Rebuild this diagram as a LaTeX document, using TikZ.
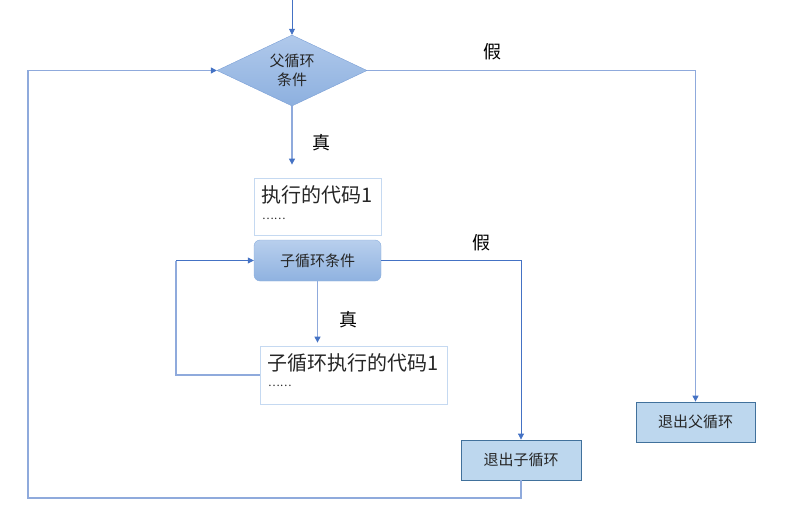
\documentclass[tikz,border=0pt]{standalone}
\usepackage{fontspec}
\setmainfont{Noto Sans CJK SC}
\usetikzlibrary{shapes.geometric,arrows.meta}
\definecolor{linedark}{HTML}{4472C4}
\definecolor{linelight}{HTML}{8FAADC}
\definecolor{boxfill}{HTML}{BDD7EE}
\definecolor{boxedge}{HTML}{41719C}
\definecolor{txt}{HTML}{262626}
\definecolor{condtop}{RGB}{176,201,235}
\definecolor{condbot}{RGB}{141,176,223}
\definecolor{condedge}{RGB}{122,159,214}
\definecolor{subtop}{RGB}{184,207,237}
\definecolor{subbot}{RGB}{143,178,224}
\definecolor{subedge}{RGB}{138,174,221}
\definecolor{codeedge}{RGB}{197,217,241}
\tikzset{
  tip/.style={-{Triangle[length=6pt,width=6pt,color=linedark]}},
  dline/.style={draw=linedark,line width=0.8pt},
  lline/.style={draw=linelight,line width=1.2pt},
  condshape/.style={diamond,aspect=2.11,inner sep=0pt,minimum width=150pt,minimum height=71pt,
    top color=condtop,bottom color=condbot,draw=condedge,
    font=\fontsize{15}{19}\selectfont, text=txt, align=center},
  subcondbox/.style={rectangle,rounded corners=6pt,minimum width=127pt,minimum height=41pt,inner sep=0pt,
    top color=subtop,bottom color=subbot,draw=subedge,font=\fontsize{15}{19}\selectfont, text=txt},
  exitbox/.style={rectangle,fill=boxfill,draw=boxedge,line width=0.8pt,minimum width=120pt,minimum height=40pt,
    inner sep=0pt, font=\fontsize{15}{19}\selectfont, text=txt},
  codebox/.style={rectangle,fill=white,draw=codeedge,line width=0.8pt,inner sep=0pt},
  codetext/.style={anchor=north west,inner sep=0pt,text=txt,font=\fontsize{20}{24}\selectfont},
  dots/.style={anchor=north west,inner sep=0pt,text=txt,font=\fontsize{11}{13}\selectfont},
  lbl/.style={font=\fontsize{18}{20}\selectfont,text=black,inner sep=0pt},
}
\begin{document}
\begin{tikzpicture}[x=1pt,y=-1pt]
\useasboundingbox (0,0) rectangle (787,516);
\coordinate (start) at (292,0);
\node[condshape] (cond) at (292,70.5) {父循环\\条件};
\node[exitbox,minimum width=119pt] (exitp) at (695.5,422) {退出父循环};
\node[codebox,minimum width=127pt,minimum height=57pt] (code1) at (317.5,206.5) {};
\node[codetext] (code1t) at (261,185) {执行的代码1};
\node[dots] (code1d) at (262,218) {……};
\node[subcondbox] (subc) at (317.5,260.5) {子循环条件};
\node[codebox,minimum width=187pt,minimum height=58pt] (code2) at (353.5,375) {};
\node[codetext] (code2t) at (267,353) {子循环执行的代码1};
\node[dots] (code2d) at (268,385) {……};
\node[exitbox] (exitc) at (521,460) {退出子循环};
\node[lbl] (f1) at (492,52) {假};
\node[lbl] (t1) at (321,143) {真};
\node[lbl] (f2) at (481,243) {假};
\node[lbl] (t2) at (348,320) {真};
\coordinate (lp1) at (176,375);
\coordinate (lp3) at (28,498);
% connectors
\draw[dline,tip] (start) -- (cond.north);
\draw[lline,tip] (cond.east) -| (exitp.north);
\draw[lline,tip,shorten >=13pt] (cond.south) -- (cond.south |- code1.north);
\draw[dline,tip] (subc.east) -| (exitc.north);
\draw[lline,tip,shorten >=3pt] (subc.south) -- (subc.south |- code2.north);
\draw[lline] (code2.west) -- (lp1) -- (lp1 |- subc.west);
\draw[dline,tip] (lp1 |- subc.west) -- (subc.west);
\draw[lline] (exitc.south) |- (lp3) -- (lp3 |- cond.west);
\draw[lline,tip] (lp3 |- cond.west) -- (cond.west);
\end{tikzpicture}
\end{document}
